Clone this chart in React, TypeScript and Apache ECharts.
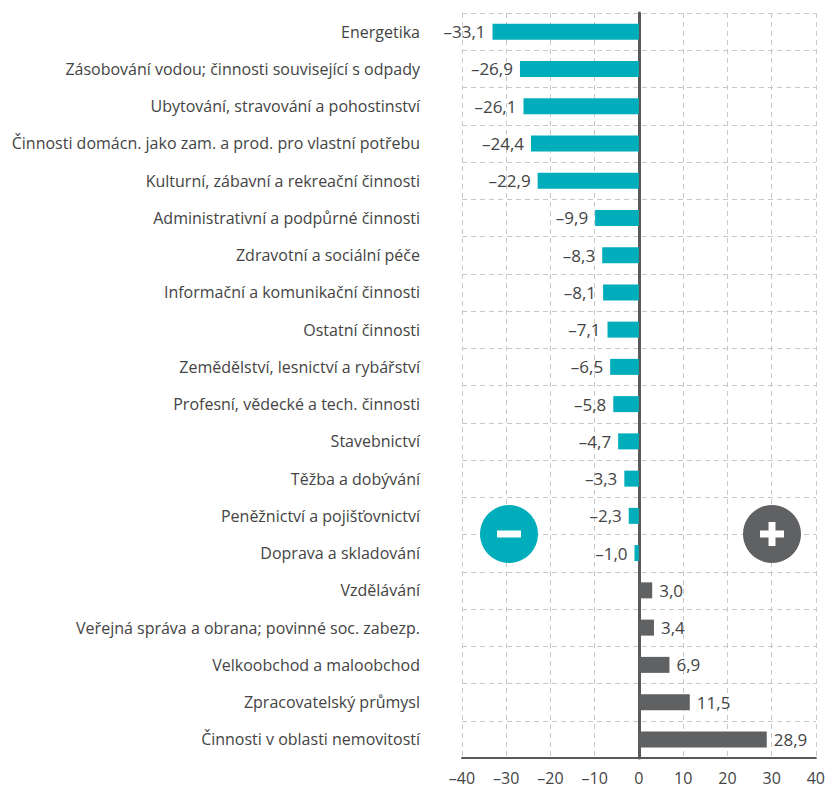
import React, { useEffect, useRef } from "react";
import * as echarts from "echarts";

const categories = [
  "Energetika",
  "Zásobování vodou; činnosti související s odpady",
  "Ubytování, stravování a pohostinství",
  "Činnosti domácn. jako zam. a prod. pro vlastní potřebu",
  "Kulturní, zábavní a rekreační činnosti",
  "Administrativní a podpůrné činnosti",
  "Zdravotní a sociální péče",
  "Informační a komunikační činnosti",
  "Ostatní činnosti",
  "Zemědělství, lesnictví a rybářství",
  "Profesní, vědecké a tech. činnosti",
  "Stavebnictví",
  "Těžba a dobývání",
  "Peněžnictví a pojišťovnictví",
  "Doprava a skladování",
  "Vzdělávání",
  "Veřejná správa a obrana; povinné soc. zabezp.",
  "Velkoobchod a maloobchod",
  "Zpracovatelský průmysl",
  "Činnosti v oblasti nemovitostí",
];

const values = [
  -33.1, -26.9, -26.1, -24.4, -22.9, -9.9, -8.3, -8.1, -7.1, -6.5, -5.8, -4.7,
  -3.3, -2.3, -1.0, 3.0, 3.4, 6.9, 11.5, 28.9,
];

const xMin = -40;
const xMax = 40;
const xInterval = 10;

const TEAL = "#00adbb";
const GREY = "#606163";
const TEXT = "#444444";
const FONT = "'Open Sans', Lato, sans-serif";

const fmt = (v: number) => v.toFixed(1).replace(".", ",").replace("-", "–");

export default function App() {
  const ref = useRef<HTMLDivElement>(null);
  useEffect(() => {
    document.body.style.margin = "0";
    const chart = echarts.init(ref.current!, undefined, { renderer: "svg" });
    chart.setOption({
      animation: false,
      grid: { left: 462, right: 10, top: 13, bottom: 31, containLabel: false },
      xAxis: {
        type: "value",
        min: xMin,
        max: xMax,
        interval: xInterval,
        axisLine: { show: true, onZero: false, lineStyle: { color: "#595959", width: 2 } },
        axisTick: { show: false },
        axisLabel: {
          color: TEXT,
          fontSize: 16,
          fontFamily: FONT,
          margin: 12,
          formatter: (v: number) => String(v).replace("-", "–"),
        },
        splitLine: { show: true, lineStyle: { color: "#c8c8c8", type: [5, 4], width: 1 } },
      },
      yAxis: {
        type: "category",
        data: categories,
        inverse: true,
        axisLine: { show: true, onZero: true, lineStyle: { color: "#595959", width: 3 } },
        axisTick: { show: false },
        axisLabel: {
          color: TEXT,
          fontSize: 16,
          fontFamily: FONT,
          margin: 42,
        },
        splitLine: { show: true, lineStyle: { color: "#c8c8c8", type: [5, 4], width: 1 } },
      },
      series: [
        {
          type: "bar",
          barWidth: 16,
          data: values.map((v) => ({
            value: v,
            itemStyle: { color: v < 0 ? TEAL : GREY },
            label: {
              show: true,
              position: v < 0 ? "left" : "right",
              distance: 7,
              color: TEXT,
              fontSize: 17,
              fontFamily: FONT,
              formatter: () => fmt(v),
            },
          })),
        },
      ],
      graphic: [
        { type: "circle", z: 100, shape: { cx: 509, cy: 534, r: 29 }, style: { fill: TEAL } },
        { type: "rect", z: 101, shape: { x: 497, y: 530.5, width: 24, height: 7 }, style: { fill: "#ffffff" } },
        { type: "circle", z: 100, shape: { cx: 772, cy: 534, r: 29 }, style: { fill: GREY } },
        { type: "rect", z: 101, shape: { x: 760, y: 530.5, width: 24, height: 7 }, style: { fill: "#ffffff" } },
        { type: "rect", z: 101, shape: { x: 768.5, y: 522, width: 7, height: 24 }, style: { fill: "#ffffff" } },
      ],
    });
    return () => chart.dispose();
  }, []);
  return <div ref={ref} style={{ width: 828, height: 789 }} />;
}
